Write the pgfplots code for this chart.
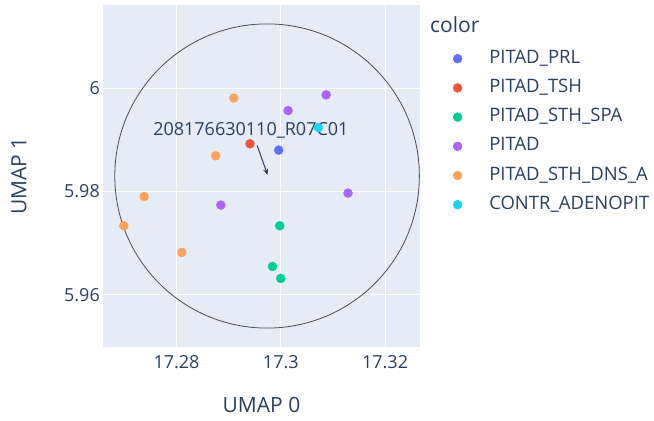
\documentclass[border=0pt]{standalone}
\usepackage{pgfplots}
\pgfplotsset{compat=1.18}
\usepackage{fontspec}
\setmainfont{Open Sans}
\usetikzlibrary{arrows.meta}
\definecolor{bg}{HTML}{E5ECF6}
\definecolor{txt}{HTML}{2A3F5F}
\definecolor{cprl}{HTML}{636EFA}
\definecolor{ctsh}{HTML}{EF553B}
\definecolor{cspa}{HTML}{00CC96}
\definecolor{cpit}{HTML}{AB63FA}
\definecolor{cdns}{HTML}{FFA15A}
\definecolor{ccon}{HTML}{19D3F3}
\begin{document}
\begin{tikzpicture}
\useasboundingbox (0,0) rectangle (654bp,421bp);
\begin{axis}[
  name=ax,
  at={(103bp,74bp)}, anchor=south west,
  scale only axis, width=317bp, height=342bp,
  xmin=17.2659, xmax=17.3267, ymin=5.9499, ymax=6.0161,
  xtick={17.28,17.3,17.32}, ytick={5.96,5.98,6},
  xticklabels={17.28,17.3,17.32}, yticklabels={5.96,5.98,6},
  axis background/.style={fill=bg},
  axis line style={draw=none}, major tick length=0pt,
  grid=major, major grid style={white, line width=1bp},
  every tick label/.append style={font=\fontsize{18bp}{20bp}\selectfont, text=txt, inner sep=0pt},
  xticklabel style={yshift=-8bp},
  yticklabel style={xshift=-3bp},
  xlabel={UMAP 0}, ylabel={UMAP 1},
  label style={font=\fontsize{21bp}{24bp}\selectfont, text=txt},
  xlabel style={at={(axis description cs:0.5,-0.1696)}, anchor=center},
  ylabel style={at={(axis description cs:-0.265,0.5)}, anchor=center, rotate=0},
  legend style={at={(axis description cs:1.1031,0.8684)}, anchor=north west, draw=none, fill=none,
    inner sep=0pt, font=\fontsize{18.5bp}{20bp}\selectfont, text=txt, row sep=12.2bp,
    nodes={inner sep=0pt, text height=13bp, text depth=4bp}},
  legend cell align=left,
  legend image code/.code={\fill[#1] (0bp,0bp) circle (4.5bp);},
]
\draw[black!70, line width=0.8bp] (axis cs:17.29737,5.983) ellipse [x radius=0.02921, y radius=0.02944];
\addplot[only marks, mark=*, mark size=4.5bp, color=cprl] coordinates {(17.2996,5.98801)};
\addlegendentry{\hspace{27bp}PITAD\_PRL}
\addplot[only marks, mark=*, mark size=4.5bp, color=ctsh] coordinates {(17.2941,5.98923)};
\addlegendentry{\hspace{27bp}PITAD\_TSH}
\addplot[only marks, mark=*, mark size=4.5bp, color=cspa] coordinates {(17.2998,5.97337) (17.2984,5.96549) (17.3000,5.96317)};
\addlegendentry{\hspace{27bp}PITAD\_STH\_SPA}
\addplot[only marks, mark=*, mark size=4.5bp, color=cpit] coordinates {(17.3087,5.99870) (17.3014,5.99567) (17.3129,5.97969) (17.2885,5.97737)};
\addlegendentry{\hspace{27bp}PITAD}
\addplot[only marks, mark=*, mark size=4.5bp, color=cdns] coordinates {(17.2910,5.99807) (17.2875,5.98691) (17.2738,5.97903) (17.2699,5.97337) (17.2810,5.9682)};
\addlegendentry{\hspace{27bp}PITAD\_STH\_DNS\_A}
\addplot[only marks, mark=*, mark size=4.5bp, color=ccon] coordinates {(17.3072,5.99238)};
\addlegendentry{\hspace{27bp}CONTR\_ADENOPIT}
\draw[-{Stealth[length=6bp,width=5bp]}, txt, line width=1bp] (axis cs:17.29547,5.98890) -- (axis cs:17.29747,5.98323);
\node[font=\fontsize{18bp}{20bp}\selectfont, text=txt, inner sep=0pt] at (axis cs:17.29426,5.99193) {208176630110\_R07C01};
\end{axis}
\node[font=\fontsize{21bp}{24bp}\selectfont, text=txt, inner sep=0pt, anchor=west] at (430bp,396bp) {color};
\end{tikzpicture}
\end{document}
